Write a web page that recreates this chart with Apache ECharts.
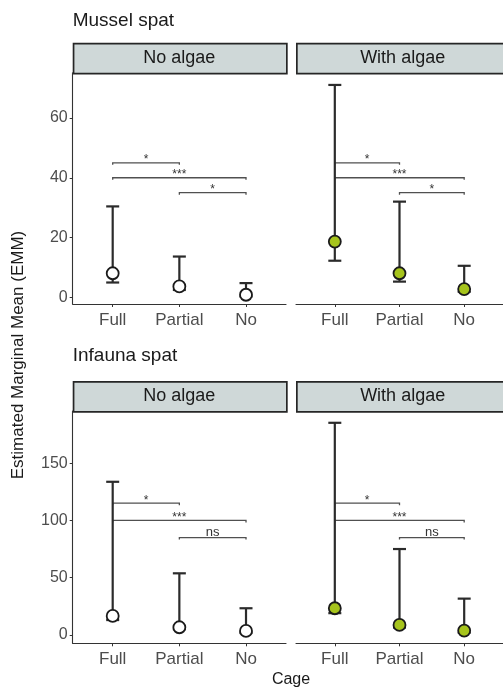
<!DOCTYPE html>
<html>
<head>
<meta charset="utf-8">
<script src="https://cdn.jsdelivr.net/npm/echarts@6/dist/echarts.min.js"></script>
<style>
  html, body { margin: 0; padding: 0; background: #ffffff; }
  #chart { width: 503px; height: 689px; }
</style>
</head>
<body>
<div id="chart"></div>
<script>
// Cage treatments on the x axis
const cages = ['Full', 'Partial', 'No'];

// Mussel spat: estimated marginal means with confidence limits
const musselNoAlgaeEmm   = [8.0, 3.6, 0.8];
const musselNoAlgaeLower = [4.9, 2.4, 0.2];
const musselNoAlgaeUpper = [30.4, 13.6, 4.7];
const musselAlgaeEmm     = [18.6, 8.0, 2.7];
const musselAlgaeLower   = [12.2, 5.2, 1.8];
const musselAlgaeUpper   = [71.1, 32.0, 10.5];

// Infauna spat: estimated marginal means with confidence limits
const infaunaNoAlgaeEmm   = [16.6, 6.7, 3.5];
const infaunaNoAlgaeLower = [13.0, 5.0, 2.0];
const infaunaNoAlgaeUpper = [133.7, 53.8, 23.3];
const infaunaAlgaeEmm     = [23.3, 8.7, 3.8];
const infaunaAlgaeLower   = [19.0, 6.5, 2.0];
const infaunaAlgaeUpper   = [185.2, 75.0, 31.7];

// Tick labels for each row
const musselTicks  = [0, 20, 40, 60];
const infaunaTicks = [0, 50, 100, 150];

// Pairwise comparisons: [from cage, to cage, bracket height, significance]
const musselPairs  = [[1, 2, 45, '*'], [1, 3, 40, '***'], [2, 3, 35, '*']];
const infaunaPairs = [[1, 2, 115, '*'], [1, 3, 100, '***'], [2, 3, 85, 'ns']];

const FONT = '"Liberation Sans", Arial, Helvetica, sans-serif';
const GREEN = '#a6c41c';

// Panel geometry (pixels)
const colLeft = [72.7, 296];
const panelW = 213.3;
const rows = [
  { top: 72.7, height: 231.3, stripTop: 42.7, min: -2.3, max: 75.2, ticks: musselTicks, pairs: musselPairs,
    title: 'Mussel spat', titleY: 22,
    panels: [
      { strip: 'No algae', emm: musselNoAlgaeEmm, lo: musselNoAlgaeLower, hi: musselNoAlgaeUpper, fill: '#ffffff' },
      { strip: 'With algae', emm: musselAlgaeEmm, lo: musselAlgaeLower, hi: musselAlgaeUpper, fill: GREEN }
    ] },
  { top: 411, height: 232.3, stripTop: 381, min: -7.3, max: 195.5, ticks: infaunaTicks, pairs: infaunaPairs,
    title: 'Infauna spat', titleY: 357.5,
    panels: [
      { strip: 'No algae', emm: infaunaNoAlgaeEmm, lo: infaunaNoAlgaeLower, hi: infaunaNoAlgaeUpper, fill: '#ffffff' },
      { strip: 'With algae', emm: infaunaAlgaeEmm, lo: infaunaAlgaeLower, hi: infaunaAlgaeUpper, fill: GREEN }
    ] }
];

function renderErrorBar(params, api) {
  const x = api.value(0);
  const lo = api.coord([x, api.value(1)]);
  const hi = api.coord([x, api.value(2)]);
  const hw = 6.5;
  const st = { stroke: '#2b2b2b', lineWidth: 2.2 };
  return {
    type: 'group',
    children: [
      { type: 'line', shape: { x1: lo[0], y1: lo[1], x2: hi[0], y2: hi[1] }, style: st },
      { type: 'line', shape: { x1: lo[0] - hw, y1: lo[1], x2: lo[0] + hw, y2: lo[1] }, style: st },
      { type: 'line', shape: { x1: hi[0] - hw, y1: hi[1], x2: hi[0] + hw, y2: hi[1] }, style: st }
    ]
  };
}

function makePairRenderer(pairs) {
  return function (params, api) {
    const p = pairs[params.dataIndex];
    const a = api.coord([p[0], p[2]]);
    const b = api.coord([p[1], p[2]]);
    const tip = 2;
    const isNs = p[3] === 'ns';
    return {
      type: 'group',
      children: [
        { type: 'polyline',
          shape: { points: [[a[0], a[1] + tip], [a[0], a[1]], [b[0], b[1]], [b[0], b[1] + tip]] },
          style: { stroke: '#505050', lineWidth: 1.3, fill: null } },
        { type: 'text',
          x: (a[0] + b[0]) / 2, y: a[1] + (isNs ? 1 : 3),
          style: { text: p[3], fill: '#333333', font: (isNs ? '13px ' : '12px ') + FONT,
                   align: 'center', verticalAlign: 'bottom' } }
      ]
    };
  };
}

const grid = [], xAxis = [], yAxis = [], series = [], graphic = [];

rows.forEach((row, r) => {
  graphic.push({
    type: 'text', left: colLeft[0], top: row.titleY - 11,
    style: { text: row.title, fill: '#1a1a1a', font: '19px ' + FONT }
  });
  row.panels.forEach((pn, c) => {
    const gi = grid.length;
    grid.push({ left: colLeft[c], top: row.top, width: panelW, height: row.height, containLabel: false });
    xAxis.push({
      gridIndex: gi, type: 'value', min: 0.4, max: 3.6,
      axisLine: { show: true, onZero: false, lineStyle: { color: '#333333', width: 1.1 } },
      axisTick: { show: true, customValues: [1, 2, 3], length: 3, lineStyle: { color: '#333333' } },
      axisLabel: { customValues: [1, 2, 3], margin: 8, color: '#4d4d4d', fontSize: 17, fontFamily: FONT,
                   formatter: v => cages[Math.round(v) - 1] },
      splitLine: { show: false }
    });
    yAxis.push({
      gridIndex: gi, type: 'value', min: row.min, max: row.max,
      axisLine: { show: c === 0, onZero: false, lineStyle: { color: '#333333', width: 1.1 } },
      axisTick: { show: c === 0, customValues: row.ticks, length: 3, lineStyle: { color: '#333333' } },
      axisLabel: { show: c === 0, customValues: row.ticks, margin: 5, color: '#4d4d4d', fontSize: 16, fontFamily: FONT },
      splitLine: { show: false }
    });
    series.push({
      type: 'custom', xAxisIndex: gi, yAxisIndex: gi, z: 2,
      data: row.pairs.map(p => [p[0], p[1], p[2]]),
      renderItem: makePairRenderer(row.pairs)
    });
    series.push({
      type: 'custom', xAxisIndex: gi, yAxisIndex: gi, z: 3,
      data: cages.map((_, i) => [i + 1, pn.lo[i], pn.hi[i]]),
      renderItem: renderErrorBar
    });
    series.push({
      type: 'scatter', xAxisIndex: gi, yAxisIndex: gi, z: 4,
      symbol: 'circle', symbolSize: 12,
      itemStyle: { color: pn.fill, opacity: 1, borderColor: '#1a1a1a', borderWidth: 1.8 },
      emphasis: { disabled: true },
      data: cages.map((_, i) => [i + 1, pn.emm[i]])
    });
    // facet strip
    graphic.push({
      type: 'rect', left: colLeft[c], top: row.stripTop,
      shape: { width: panelW, height: row.top - row.stripTop },
      style: { fill: '#cfd8d8', stroke: '#262626', lineWidth: 1.7 }
    });
    graphic.push({
      type: 'text', x: colLeft[c] + panelW / 2, y: row.stripTop + (row.top - row.stripTop) / 2 + 0.5,
      style: { text: pn.strip, fill: '#1a1a1a', font: '18px ' + FONT, align: 'center', verticalAlign: 'middle' }
    });
  });
});

// shared axis titles
graphic.push({
  type: 'text', x: 18.5, y: 355, rotation: Math.PI / 2,
  style: { text: 'Estimated Marginal Mean (EMM)', fill: '#1a1a1a', font: '17px ' + FONT,
           align: 'center', verticalAlign: 'middle' }
});
graphic.push({
  type: 'text', x: 291, y: 680,
  style: { text: 'Cage', fill: '#1a1a1a', font: '16px ' + FONT, align: 'center', verticalAlign: 'middle' }
});

const chart = echarts.init(document.getElementById('chart'), null, { renderer: 'canvas' });
chart.setOption({
  animation: false,
  backgroundColor: '#ffffff',
  grid, xAxis, yAxis, series, graphic
});
</script>
</body>
</html>
